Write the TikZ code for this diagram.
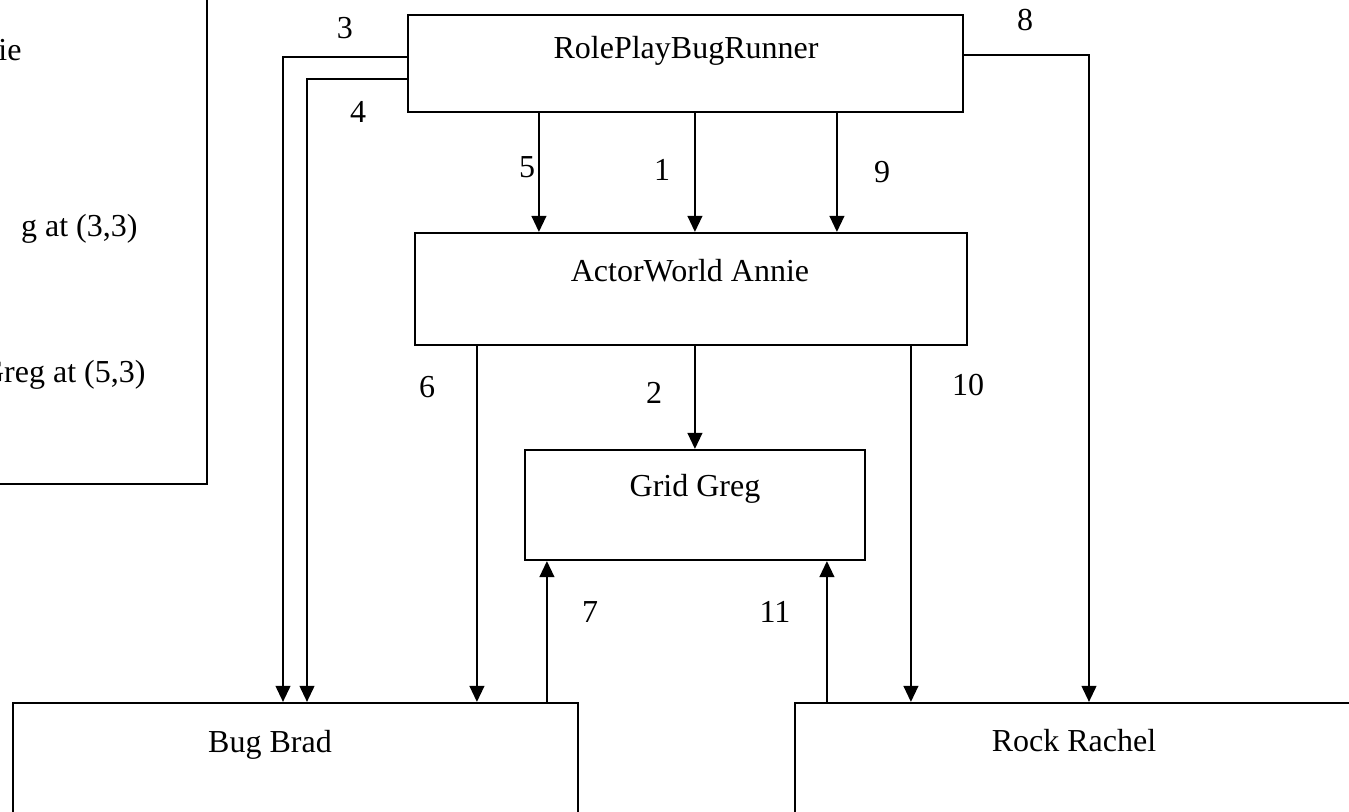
\documentclass[tikz,border=0pt]{standalone}
\usepackage{fontspec}
\setmainfont{Liberation Serif}
\usetikzlibrary{arrows.meta,fit,calc}
\tikzset{
  box/.style={draw, line width=0.8pt, inner sep=0pt},
  arr/.style={-{Triangle[length=6pt,width=5.5pt]}, line width=0.75pt},
  cut/.style={anchor=base east, inner sep=0pt},
}
\begin{document}
\begin{tikzpicture}[x=0.375pt, y=-0.375pt, font=\fontsize{12}{14}\selectfont]
	\useasboundingbox (0,0) rectangle (1349,812);
	\clip (0,0) rectangle (1349,812);
	
	% boxes
	\node[box, fit={(-60,-20) (207,484)}] (legend) {};
	\node[box, fit={(408,15) (963,112)}] (runner) {};
	\node[box, fit={(415,233) (967,345)}] (world) {};
	\node[box, fit={(525,450) (865,560)}] (grid) {};
	\node[box, fit={(13,703) (578,860)}] (brad) {};
	\node[box, fit={(795,703) (1400,860)}] (rachel) {};
	
	% box texts
	\node (runnertxt) at (686,51) {RolePlayBugRunner};
	\node (worldtxt) at (690,271) {ActorWorld Annie};
	\node (gridtxt) at (695,489) {Grid Greg};
	\node (bradtxt) at (270,745) {Bug Brad};
	\node (racheltxt) at (1074,741) {Rock Rachel};
	
	% legend, cut off at the left edge
	\node[cut] (leg1) at (22,61) {ie};
	\node[cut] (leg2) at (138,237) {g at (3,3)};
	\node[cut] (leg3) at (146,383) {Greg at (5,3)};
	
	% runner down to world
	\foreach \dx in {132,288,430}
		\draw[arr] ($(runner.south west)+(\dx,0)$) coordinate (s) -- (s |- world.north);
	
	% world down to brad, grid and rachel
	\draw[arr] ($(world.south west)+(63,0)$) coordinate (s) -- (s |- brad.north);
	\draw[arr] ($(world.south west)+(281,0)$) coordinate (s) -- (s |- grid.north);
	\draw[arr] ($(world.south west)+(497,0)$) coordinate (s) -- (s |- rachel.north);
	
	% brad and rachel up to grid
	\draw[arr] ($(brad.north west)+(535,0)$) coordinate (s) -- (s |- grid.south);
	\draw[arr] ($(rachel.north west)+(33,0)$) coordinate (s) -- (s |- grid.south);
	
	% runner round the sides
	\coordinate (bend3) at (283,57);
	\coordinate (bend4) at (307,79);
	\coordinate (bend8) at (1089,55);
	\draw[arr] (runner.west |- bend3) -- (bend3) -- (bend3 |- brad.north);
	\draw[arr] (runner.west |- bend4) -- (bend4) -- (bend4 |- brad.north);
	\draw[arr] (runner.east |- bend8) -- (bend8) -- (bend8 |- rachel.north);
	
	% step numbers
	\node (n1) at (662,170) {1};
	\node (n2) at (654,393) {2};
	\node (n3) at (345,28) {3};
	\node (n4) at (358,112) {4};
	\node (n5) at (527,167) {5};
	\node (n6) at (427,387) {6};
	\node (n7) at (590,612) {7};
	\node (n8) at (1025,20) {8};
	\node (n9) at (882,172) {9};
	\node (n10) at (968,385) {10};
	\node (n11) at (775,612) {11};
\end{tikzpicture}
\end{document}
